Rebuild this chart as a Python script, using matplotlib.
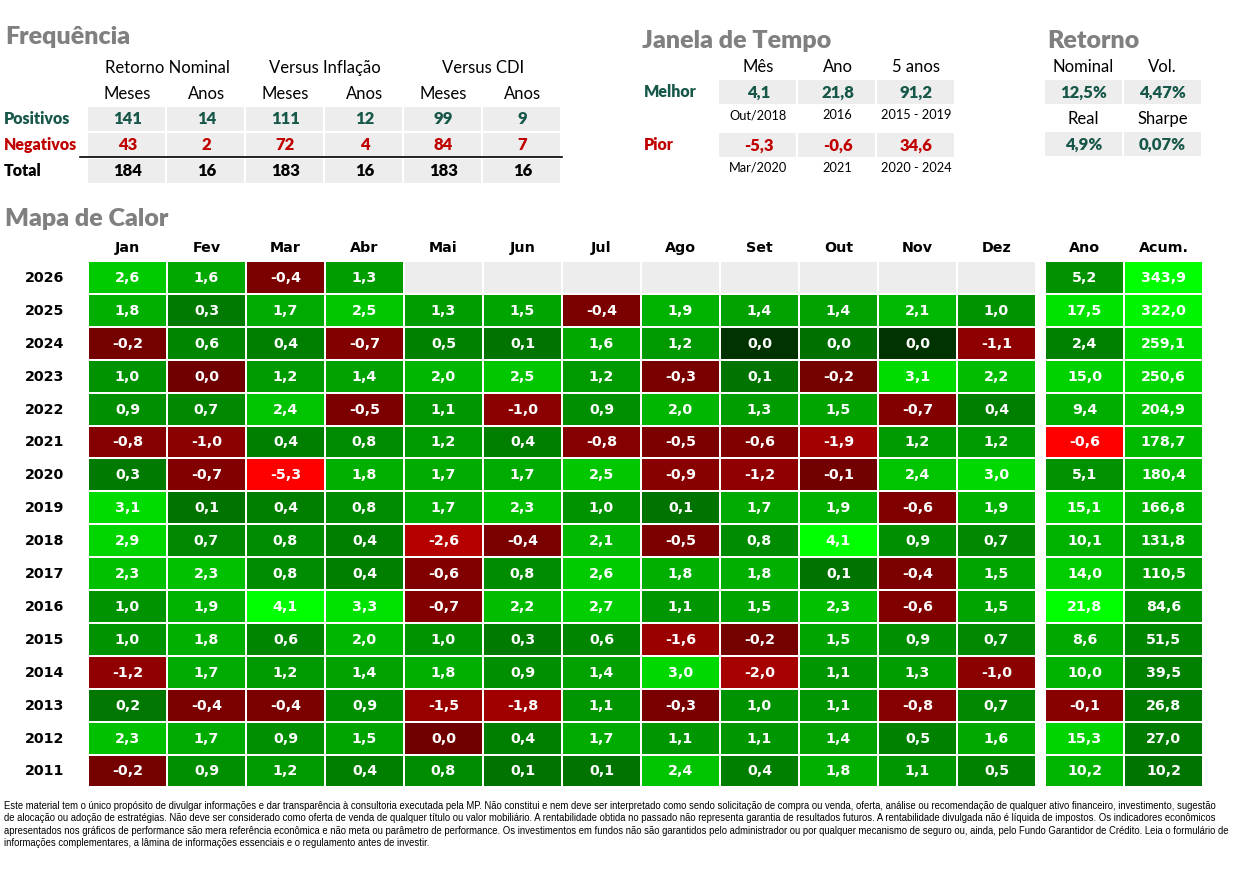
import numpy as np
import matplotlib
matplotlib.use("Agg")
import matplotlib.pyplot as plt
from matplotlib.colors import LinearSegmentedColormap, TwoSlopeNorm

# ---------------- data ----------------
months = ["Jan", "Fev", "Mar", "Abr", "Mai", "Jun", "Jul", "Ago", "Set", "Out", "Nov", "Dez"]
years = [2026, 2025, 2024, 2023, 2022, 2021, 2020, 2019, 2018, 2017, 2016, 2015, 2014, 2013, 2012, 2011]
N = np.nan
monthly = [
    [2.6, 1.6, -0.4, 1.3, N, N, N, N, N, N, N, N],
    [1.8, 0.3, 1.7, 2.5, 1.3, 1.5, -0.4, 1.9, 1.4, 1.4, 2.1, 1.0],
    [-0.2, 0.6, 0.4, -0.7, 0.5, 0.1, 1.6, 1.2, 0.0, 0.04, 0.0, -1.1],
    [1.0, -0.02, 1.2, 1.4, 2.0, 2.5, 1.2, -0.3, 0.1, -0.2, 3.1, 2.2],
    [0.9, 0.7, 2.4, -0.5, 1.1, -1.0, 0.9, 2.0, 1.3, 1.5, -0.7, 0.4],
    [-0.8, -1.0, 0.4, 0.8, 1.2, 0.4, -0.8, -0.5, -0.6, -1.9, 1.2, 1.2],
    [0.3, -0.7, -5.3, 1.8, 1.7, 1.7, 2.5, -0.9, -1.2, -0.1, 2.4, 3.0],
    [3.1, 0.1, 0.4, 0.8, 1.7, 2.3, 1.0, 0.1, 1.7, 1.9, -0.6, 1.9],
    [2.9, 0.7, 0.8, 0.4, -2.6, -0.4, 2.1, -0.5, 0.8, 4.1, 0.9, 0.7],
    [2.3, 2.3, 0.8, 0.4, -0.6, 0.8, 2.6, 1.8, 1.8, 0.1, -0.4, 1.5],
    [1.0, 1.9, 4.1, 3.3, -0.7, 2.2, 2.7, 1.1, 1.5, 2.3, -0.6, 1.5],
    [1.0, 1.8, 0.6, 2.0, 1.0, 0.3, 0.6, -1.6, -0.2, 1.5, 0.9, 0.7],
    [-1.2, 1.7, 1.2, 1.4, 1.8, 0.9, 1.4, 3.0, -2.0, 1.1, 1.3, -1.0],
    [0.2, -0.4, -0.4, 0.9, -1.5, -1.8, 1.1, -0.3, 1.0, 1.1, -0.8, 0.7],
    [2.3, 1.7, 0.9, 1.5, -0.02, 0.4, 1.7, 1.1, 1.1, 1.4, 0.5, 1.6],
    [-0.2, 0.9, 1.2, 0.4, 0.8, 0.1, 0.1, 2.4, 0.4, 1.8, 1.1, 0.5],
]
ano = [5.2, 17.5, 2.4, 15.0, 9.4, -0.6, 5.1, 15.1, 10.1, 14.0, 21.8, 8.6, 10.0, -0.1, 15.3, 10.2]
acum = [343.9, 322.0, 259.1, 250.6, 204.9, 178.7, 180.4, 166.8, 131.8, 110.5, 84.6, 51.5, 39.5, 26.8, 27.0, 10.2]

freq_groups = ["Retorno Nominal", "Versus Inflação", "Versus CDI"]
freq_sub = ["Meses", "Anos"]
freq_rows = ["Positivos", "Negativos", "Total"]
freq_pos = [141, 14, 111, 12, 99, 9]
freq_neg = [43, 2, 72, 4, 84, 7]
freq_tot = [184, 16, 183, 16, 183, 16]

jan_cols = ["Mês", "Ano", "5 anos"]
jan_best = ["4,1", "21,8", "91,2"]
jan_best_when = ["Out/2018", "2016", "2015 - 2019"]
jan_worst = ["-5,3", "-0,6", "34,6"]
jan_worst_when = ["Mar/2020", "2021", "2020 - 2024"]

ret_labels1 = ["Nominal", "Vol."]
ret_values1 = ["12,5%", "4,47%"]
ret_labels2 = ["Real", "Sharpe"]
ret_values2 = ["4,9%", "0,07%"]

disclaimer = [
    "Este material tem o único propósito de divulgar informações e dar transparência à consultoria executada pela MP. Não constitui e nem deve ser interpretado como sendo solicitação de compra ou venda, oferta, análise ou recomendação de qualquer ativo financeiro, investimento, sugestão",
    "de alocação ou adoção de estratégias. Não deve ser considerado como oferta de venda de qualquer título ou valor mobiliário. A rentabilidade obtida no passado não representa garantia de resultados futuros. A rentabilidade divulgada não é líquida de impostos. Os indicadores econômicos",
    "apresentados nos gráficos de performance são mera referência econômica e não meta ou parâmetro de performance. Os investimentos em fundos não são garantidos pelo administrador ou por qualquer mecanismo de seguro ou, ainda, pelo Fundo Garantidor de Crédito. Leia o formulário de",
    "informações complementares, a lâmina de informações essenciais e o regulamento antes de investir.",
]

# ---------------- style ----------------
TEAL = "#17574A"
RED = "#C00000"
GRAY_T = "#808080"
CELL = "#EDEDED"
HF = "Lato"          # Calibri-like
NF = "DejaVu Sans"   # Tahoma-like

eps = 0.0004
cmap = LinearSegmentedColormap.from_list("rg", [
    (0.0, (1.0, 0.0, 0.0)),
    (0.5 - eps, (112/255, 0, 0)),
    (0.5, (0, 40/255, 0)),
    (0.5 + eps, (0, 112/255, 0)),
    (1.0, (0, 1.0, 0)),
], N=8192)
cmap.set_bad(CELL)

fig = plt.figure(figsize=(12.43, 8.77), dpi=100)
ax = fig.add_axes([0, 0, 1, 1])
ax.set_xlim(0, 1243)
ax.set_ylim(877, 0)
ax.axis("off")

HS = 12     # header size
VS = 12     # bold value size
LS = 11.5   # row label size


def title(x, y, s):
    ax.text(x, y, s, fontsize=18, fontweight="heavy", color=GRAY_T, family=HF, va="center", ha="left")


# ---------------- Frequência ----------------
title(5, 37, "Frequência")
fx0, fcw = 88, 79
f_y = [119, 145, 171]
f_h = 24
for gi, g in enumerate(freq_groups):
    ax.text(fx0 + fcw * (2 * gi + 1), 68, g, fontsize=HS, family=HF, ha="center", va="center")
    for si, s in enumerate(freq_sub):
        ax.text(fx0 + fcw * (2 * gi + si) + fcw / 2, 94, s, fontsize=HS, family=HF, ha="center", va="center")
row_cols = [TEAL, RED, "black"]
for ri, (vals, col) in enumerate(zip([freq_pos, freq_neg, freq_tot], row_cols)):
    yc = f_y[ri]
    ax.text(4, yc, freq_rows[ri], fontsize=LS, fontweight="heavy", family=HF, color=col, ha="left", va="center")
    for ci, v in enumerate(vals):
        ax.add_patch(plt.Rectangle((fx0 + ci * fcw, yc - f_h / 2), fcw - 2, f_h, color=CELL, lw=0))
        ax.text(fx0 + ci * fcw + fcw / 2, yc + 0.5, str(v), fontsize=VS, fontweight="heavy", family=HF,
                color=col, ha="center", va="center")
ax.plot([80, 562], [157, 157], color="black", lw=1.2)

# ---------------- Janela de Tempo ----------------
title(642, 41, "Janela de Tempo")
jx0, jcw = 719, 79
for ci, c in enumerate(jan_cols):
    ax.text(jx0 + ci * jcw + jcw / 2, 67, c, fontsize=HS, family=HF, ha="center", va="center")
for (lab, col, vals, whens, yc) in [("Melhor", TEAL, jan_best, jan_best_when, 92),
                                    ("Pior", RED, jan_worst, jan_worst_when, 145)]:
    ax.text(644, yc, lab, fontsize=LS, fontweight="heavy", family=HF, color=col, ha="left", va="center")
    for ci, (v, w) in enumerate(zip(vals, whens)):
        ax.add_patch(plt.Rectangle((jx0 + ci * jcw, yc - 12), jcw - 2, 24, color=CELL, lw=0))
        ax.text(jx0 + ci * jcw + jcw / 2, yc + 0.5, v, fontsize=VS, fontweight="heavy", family=HF,
                color=col, ha="center", va="center")
        ax.text(jx0 + ci * jcw + jcw / 2, yc + 23, w, fontsize=9.2, family=HF, ha="center", va="center")

# ---------------- Retorno ----------------
title(1047, 41, "Retorno")
rx0, rcw = 1045, 79
for labs, vals, yl, yv in [(ret_labels1, ret_values1, 67, 92), (ret_labels2, ret_values2, 119, 144)]:
    for ci, (l, v) in enumerate(zip(labs, vals)):
        ax.text(rx0 + ci * rcw + rcw / 2 - 1, yl, l, fontsize=HS, family=HF, ha="center", va="center")
        ax.add_patch(plt.Rectangle((rx0 + ci * rcw, yv - 12), rcw - 2, 24, color=CELL, lw=0))
        ax.text(rx0 + ci * rcw + rcw / 2 - 1, yv + 0.5, v, fontsize=VS, fontweight="heavy", family=HF,
                color=TEAL, ha="center", va="center")

# ---------------- Mapa de Calor ----------------
title(5, 219, "Mapa de Calor")
hx0, hcw = 88, 79
hy0, hrh = 261, 32.9
nr = len(years)
M = np.ma.masked_invalid(np.array(monthly, dtype=float))


def fmt(v):
    s = f"{v:.1f}"
    if s == "-0.0":
        s = "0.0"
    return s.replace(".", ",")


def heat(block, x0, ncols, vmin, vmax):
    norm = TwoSlopeNorm(vcenter=0.0, vmin=vmin, vmax=vmax)
    X = x0 + np.arange(ncols + 1) * hcw
    Y = hy0 + np.arange(nr + 1) * hrh
    ax.pcolormesh(X, Y, block, cmap=cmap, norm=norm, edgecolors="white", linewidth=1.3)
    for r in range(nr):
        for c in range(ncols):
            v = block[r, c]
            if np.ma.is_masked(v) or np.isnan(v):
                continue
            ax.text(x0 + c * hcw + hcw / 2, hy0 + r * hrh + hrh / 2 + 0.5, fmt(float(v)), fontsize=10.3,
                    fontweight="bold", family=NF, color="white", ha="center", va="center")


mv = M.compressed()
heat(M, hx0, 12, min(mv.min(), -1e-6), mv.max())
A = np.array(ano, dtype=float).reshape(-1, 1)
heat(np.ma.masked_invalid(A), 1045, 1, min(A.min(), -1e-6), A.max())
C = np.array(acum, dtype=float).reshape(-1, 1)
heat(np.ma.masked_invalid(C), 1045 + hcw, 1, min(C.min(), -C.max()), C.max())

for ci, m in enumerate(months):
    ax.text(hx0 + ci * hcw + hcw / 2, 248, m, fontsize=10.3, fontweight="bold", family=NF, ha="center", va="center")
for ci, m in enumerate(["Ano", "Acum."]):
    ax.text(1045 + ci * hcw + hcw / 2, 248, m, fontsize=10.3, fontweight="bold", family=NF, ha="center", va="center")
for r, y in enumerate(years):
    ax.text(45, hy0 + r * hrh + hrh / 2 + 0.5, str(y), fontsize=10.3, fontweight="bold", family=NF,
            ha="center", va="center")

# ---------------- disclaimer ----------------
for i, line in enumerate(disclaimer):
    ax.text(4, 806 + i * 12.4, line, fontsize=6.85, family="Liberation Sans", ha="left", va="center")

fig.savefig("out.png", dpi=100)
